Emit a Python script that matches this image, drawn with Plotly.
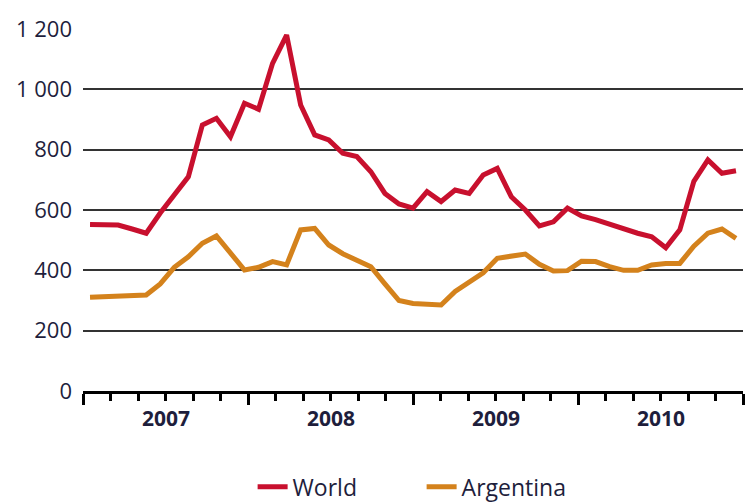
import plotly.graph_objects as go

# monthly prices, Jan 2007 - Nov 2010
world = [552, 551, 550, 537, 523, 590, 650, 710, 882, 904, 843, 954,
         934, 1086, 1180, 948, 849, 832, 788, 777, 727, 655, 620, 606,
         661, 628, 666, 655, 716, 738, 644, 600, 547, 561, 606, 580,
         568, 552, 536, 523, 511, 475, 534, 695, 766, 722, 730]
argentina = [311, 313, 313, 313, 318, 355, 410, 445, 490, 514, 456, 401,
             410, 429, 418, 534, 539, 484, 455, 432, 412, 355, 300, 290,
             287, 285, 330, 360, 392, 440, 445, 454, 420, 398, 399, 430,
             429, 412, 400, 400, 418, 423, 423, 480, 523, 537, 506]
years = ['2007', '2008', '2009', '2010']
ytick_vals = [0, 200, 400, 600, 800, 1000, 1200]
ytick_text = ['0', '200', '400', '600', '800', '1 000', '1 200']

n = len(world)
x = list(range(n))
# year boundaries on the category axis
bounds = [-0.5 + j * n / len(years) for j in range(len(years) + 1)]
centers = [(bounds[j] + bounds[j + 1]) / 2 for j in range(len(years))]

fig = go.Figure()
fig.add_scatter(x=x, y=world, name='World', mode='lines',
                line={'color': '#C8102E', 'width': 5})
fig.add_scatter(x=x, y=argentina, name='Argentina', mode='lines',
                line={'color': '#D4821C', 'width': 5})

fig.update_layout(
    width=748, height=504,
    paper_bgcolor='white', plot_bgcolor='white',
    margin=dict(l=83, r=5, t=29, b=113, autoexpand=False),
    font=dict(family='Open Sans', color='#1e1e3c'),
    legend=dict(orientation='h', x=0.257, xanchor='left',
                y=-0.205, yanchor='top',
                font=dict(size=23, color='#1e1e3c'),
                entrywidth=124, itemwidth=30),
)
fig.update_xaxes(
    range=[bounds[0], bounds[-1]],
    showgrid=False, zeroline=False,
    showline=True, linecolor='black', linewidth=3,
    tickmode='array', tickvals=bounds, showticklabels=False,
    ticks='outside', ticklen=11, tickwidth=3, tickcolor='black',
    minor=dict(tick0=-0.5, dtick=n / 24, ticks='outside', ticklen=7,
               tickwidth=3, tickcolor='black', showgrid=False),
)
fig.update_yaxes(
    range=[0, 1200],
    tickmode='array', tickvals=ytick_vals, ticktext=ytick_text,
    tickfont=dict(size=22, color='#1e1e3c'),
    showgrid=True, gridcolor='#333333', gridwidth=2,
    zeroline=False, ticks='', ticklabelstandoff=10,
)

for c, yr in zip(centers, years):
    fig.add_annotation(x=c, y=-0.075, xref='x', yref='paper', text='<b>%s</b>' % yr,
                       showarrow=False, yanchor='middle',
                       font=dict(size=21, color='#1e1e3c'))

fig.write_html("out.html", config={'displayModeBar': False},
               post_script="document.body.style.margin='0';")
